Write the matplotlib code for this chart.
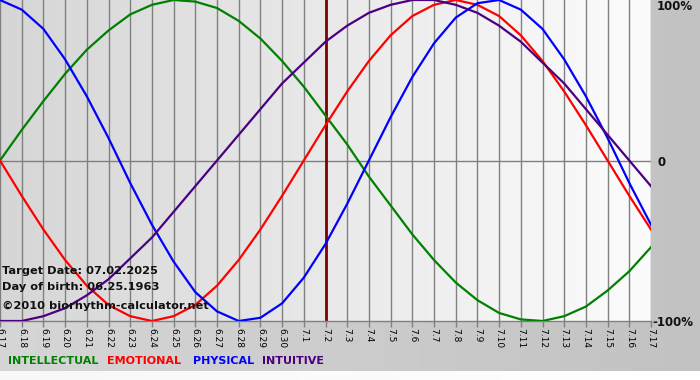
#! /usr/bin/env python
# Biorhythm chart, 6.17 - 7.17, target date 7.2
import numpy as np
import matplotlib
matplotlib.use('Agg')
import matplotlib.pyplot as plt
from matplotlib.colors import LinearSegmentedColormap

# Day labels along the bottom
days = ['6.17', '6.18', '6.19', '6.20', '6.21', '6.22', '6.23', '6.24', '6.25',
        '6.26', '6.27', '6.28', '6.29', '6.30', '7.1', '7.2', '7.3', '7.4',
        '7.5', '7.6', '7.7', '7.8', '7.9', '7.10', '7.11', '7.12', '7.13',
        '7.14', '7.15', '7.16', '7.17']
target_day = '7.2'

# Values (fraction of 100%), one per day
physical = [1.00, 0.94, 0.82, 0.63, 0.40, 0.14, -0.14, -0.40, -0.63, -0.82,
            -0.94, -1.00, -0.98, -0.89, -0.73, -0.52, -0.27, 0.00, 0.27, 0.52,
            0.73, 0.89, 0.98, 1.00, 0.94, 0.82, 0.63, 0.40, 0.14, -0.14, -0.40]
emotional = [0.00, -0.22, -0.43, -0.62, -0.78, -0.90, -0.97, -1.00, -0.97,
             -0.90, -0.78, -0.62, -0.43, -0.22, 0.00, 0.22, 0.43, 0.62, 0.78,
             0.90, 0.97, 1.00, 0.97, 0.90, 0.78, 0.62, 0.43, 0.22, 0.00,
             -0.22, -0.43]
intellectual = [0.00, 0.19, 0.37, 0.54, 0.69, 0.81, 0.91, 0.97, 1.00, 0.99,
                0.95, 0.87, 0.76, 0.62, 0.46, 0.28, 0.10, -0.10, -0.28, -0.46,
                -0.62, -0.76, -0.87, -0.95, -0.99, -1.00, -0.97, -0.91, -0.81,
                -0.69, -0.54]
intuitive = [-1.00, -1.00, -0.97, -0.92, -0.84, -0.74, -0.61, -0.48, -0.32,
             -0.16, 0.00, 0.16, 0.32, 0.48, 0.61, 0.74, 0.84, 0.92, 0.97, 1.00,
             1.00, 0.97, 0.92, 0.84, 0.74, 0.61, 0.48, 0.32, 0.16, 0.00, -0.16]

legend_names = ['INTELLECTUAL', 'EMOTIONAL', 'PHYSICAL', 'INTUITIVE']
info_lines = ['Target Date: 07.02.2025', 'Day of birth: 06.25.1963',
              '\u00a92010 biorhythm-calculator.net']

W, H = 700, 380
fig = plt.figure(figsize=(W/100, H/100), dpi=100)

# Background of the whole picture - grey, white strip at the very bottom
bg = fig.add_axes([0, 0, 1, 1], zorder=-5)
bg.axis('off')
bg_cmap = LinearSegmentedColormap.from_list('bg', ['#d6d6d6', '#c2c2c2'])
bg.imshow(np.linspace(0, 1, 256).reshape(1, -1), cmap=bg_cmap, aspect='auto',
          extent=[0, 1, 0, 1])
band_cmap = LinearSegmentedColormap.from_list('band', ['#f8f8f8', '#ffffff'])
bg.imshow(np.linspace(0, 1, 256).reshape(1, -1), cmap=band_cmap, aspect='auto',
          extent=[0, 1, 0, 9/H])
bg.set_xlim(0, 1)
bg.set_ylim(0, 1)

# Plot area in pixels
px_left, px_right, px_top, px_bottom = 0, 651, 0, 321
ax = fig.add_axes([px_left/W, 1 - px_bottom/H, (px_right - px_left)/W,
                   (px_bottom - px_top)/H])

x = np.arange(len(days))
ax.set_xlim(0, len(days) - 1)
ax.set_ylim(-1, 1)

# Plot background gradient, grey on the left to white on the right
pa_cmap = LinearSegmentedColormap.from_list('pa', ['#d6d6d6', '#fcfcfc'])
ax.imshow(np.linspace(0, 1, 256).reshape(1, -1), cmap=pa_cmap, aspect='auto',
          extent=[0, len(days) - 1, -1, 1], zorder=0)

# Day grid and zero line
for xi in x:
    ax.axvline(xi, color='#808080', linewidth=1.0, zorder=1)
ax.axhline(0, color='#808080', linewidth=1.0, zorder=1)

ax.plot(x, intellectual, color='#008000', linewidth=1.6, zorder=3)
ax.plot(x, emotional, color='#ff0000', linewidth=1.6, zorder=3)
ax.plot(x, physical, color='#0000ff', linewidth=1.6, zorder=3)
ax.plot(x, intuitive, color='#4b0082', linewidth=1.6, zorder=3)

# Target date marker
ax.axvline(days.index(target_day), color='#800000', linewidth=2.0, zorder=2)

for side in ['left', 'top', 'right']:
    ax.spines[side].set_visible(False)
ax.spines['bottom'].set_color('#808080')
ax.spines['bottom'].set_linewidth(1.0)
ax.set_yticks([])
ax.set_xticks(x)
ax.set_xticklabels(days, rotation=270, fontsize=6.5, family='DejaVu Sans')
ax.tick_params(axis='x', length=4, width=1, color='#808080', pad=1)

# Percent labels on the right
pct_kw = dict(fontsize=8.5, weight='bold', color='#111111', va='center')
fig.text(657/W, 1 - 7/H, '100%', **pct_kw)
fig.text(657/W, 1 - 162/H, '0', **pct_kw)
fig.text(652/W, 1 - 322/H, '-100%', **pct_kw)

# Info text inside the chart
for text, ypx in zip(info_lines, [271, 287, 306]):
    ax.text(2/W, 1 - ypx/H, text, transform=fig.transFigure, fontsize=8.2,
            weight='bold', color='#111111', va='center', zorder=5)

# Legend row at the bottom
leg_colors = ['#008000', '#ff0000', '#0000ff', '#4b0082']
leg_x = [8, 107, 193, 262]
for name, c, lx in zip(legend_names, leg_colors, leg_x):
    fig.text(lx/W, 1 - 361/H, name, fontsize=8, weight='bold', color=c,
             va='center')

plt.savefig('out.png', dpi=100)
